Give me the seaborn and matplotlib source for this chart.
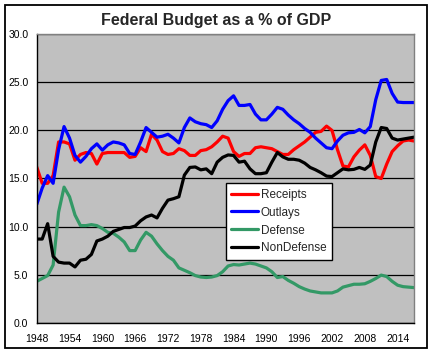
import matplotlib
matplotlib.use('Agg')
import matplotlib.pyplot as plt
from matplotlib.patches import Rectangle
import pandas as pd
import seaborn as sns
import numpy as np

# years on the chart's category axis
years = list(range(1948, 2018))

receipts = [16.2, 14.5, 14.5, 15.3, 18.8, 18.8, 18.6, 16.9, 17.5, 17.7,
            17.6, 16.5, 17.6, 17.7, 17.7, 17.7, 17.7, 17.2, 17.3, 18.2,
            17.8, 19.6, 19.0, 17.8, 17.5, 17.6, 18.1, 17.9, 17.4, 17.4,
            17.9, 18.0, 18.3, 18.8, 19.4, 19.2, 17.8, 17.3, 17.6, 17.6,
            18.2, 18.3, 18.2, 18.1, 17.8, 17.5, 17.5, 18.0, 18.4, 18.8,
            19.3, 19.8, 19.9, 20.45, 20.0, 18.0, 16.3, 16.2, 17.25, 17.95,
            18.5, 17.4, 15.2, 15.0, 16.5, 17.8, 18.4, 18.9, 19.0, 18.9]

outlays = [12.3, 14.0, 15.3, 14.5, 18.0, 20.4, 19.2, 17.4, 16.7, 17.3,
           18.1, 18.6, 17.95, 18.5, 18.8, 18.7, 18.5, 17.6, 17.5, 18.8,
           20.3, 19.8, 19.3, 19.4, 19.6, 19.2, 18.7, 20.3, 21.3, 20.9,
           20.7, 20.6, 20.3, 21.0, 22.2, 23.1, 23.6, 22.6, 22.6, 22.7,
           21.7, 21.1, 21.1, 21.7, 22.4, 22.2, 21.6, 21.1, 20.7, 20.2,
           19.8, 19.2, 18.7, 18.2, 18.1, 18.9, 19.5, 19.75, 19.8, 20.1,
           19.75, 20.4, 23.2, 25.2, 25.3, 23.85, 22.95, 22.9, 22.9, 22.9]

defense = [4.3, 4.6, 4.9, 6.0, 11.5, 14.1, 13.1, 11.2, 10.1, 10.1,
           10.2, 10.1, 9.8, 9.4, 9.3, 8.9, 8.4, 7.5, 7.5, 8.6,
           9.4, 9.0, 8.2, 7.5, 6.9, 6.5, 5.7, 5.45, 5.2, 4.9,
           4.75, 4.7, 4.75, 4.9, 5.3, 5.9, 6.05, 6.0, 6.1, 6.2,
           6.1, 5.9, 5.7, 5.3, 4.7, 4.8, 4.4, 4.1, 3.75, 3.5,
           3.3, 3.2, 3.1, 3.1, 3.1, 3.3, 3.7, 3.85, 4.0, 4.0,
           4.05, 4.3, 4.6, 4.95, 4.8, 4.3, 3.9, 3.75, 3.7, 3.65]

nondefense = [8.7, 8.7, 10.3, 6.9, 6.3, 6.2, 6.2, 5.8, 6.5, 6.6,
              7.1, 8.5, 8.7, 9.0, 9.5, 9.7, 9.9, 9.9, 10.05, 10.6,
              11.0, 11.2, 10.9, 11.9, 12.75, 12.9, 13.1, 15.35, 16.15, 16.2,
              15.9, 16.0, 15.5, 16.7, 17.2, 17.45, 17.4, 16.7, 16.8, 16.0,
              15.5, 15.5, 15.6, 16.7, 17.7, 17.25, 17.0, 17.0, 16.9, 16.6,
              16.15, 15.9, 15.6, 15.25, 15.2, 15.6, 16.0, 15.9, 15.95, 16.15,
              15.95, 16.4, 18.8, 20.3, 20.2, 19.2, 19.0, 19.1, 19.2, 19.3]

series_names = ['Receipts', 'Outlays', 'Defense', 'NonDefense']
colors = {'Receipts': '#FF0000', 'Outlays': '#0000FF',
          'Defense': '#339966', 'NonDefense': '#000000'}

wide = pd.DataFrame({'Year': years, 'Receipts': receipts, 'Outlays': outlays,
                     'Defense': defense, 'NonDefense': nondefense})
long = wide.melt(id_vars='Year', var_name='Series', value_name='Pct')

sns.set_style('white')
plt.rcParams['font.family'] = ['Liberation Sans', 'DejaVu Sans']

fig = plt.figure(figsize=(4.34, 3.55), dpi=100)
fig.patch.set_facecolor('white')
ax = fig.add_axes([0.0846, 0.091, 0.8694, 0.8124])
ax.set_facecolor('#C0C0C0')

sns.lineplot(data=long, x='Year', y='Pct', hue='Series', hue_order=series_names,
             palette=colors, linewidth=2.3, ax=ax, legend=True)

ax.set_xlim(1948, 2017)
ax.set_ylim(0, 30)
ax.set_xticks(np.arange(1948, 2015, 6))
ax.set_yticks(np.arange(0, 31, 5))
ax.set_yticklabels(['%.1f' % v for v in np.arange(0, 31, 5)])
ax.set_xlabel('')
ax.set_ylabel('')
ax.yaxis.grid(True, color='black', linewidth=0.9)
ax.xaxis.grid(False)
ax.set_axisbelow(True)
ax.tick_params(axis='both', direction='out', length=4, width=1, labelsize=7.5,
               pad=2, colors='black')
ax.tick_params(axis='x', pad=4)

for side in ['left', 'bottom']:
    ax.spines[side].set_color('black')
    ax.spines[side].set_linewidth(1)
for side in ['top', 'right']:
    ax.spines[side].set_color('#808080')
    ax.spines[side].set_linewidth(1)
    ax.spines[side].set_visible(True)

handles, labels = ax.get_legend_handles_labels()
leg = ax.legend(handles, labels, loc='upper left', bbox_to_anchor=(0.501, 0.483),
                frameon=True, fancybox=False, edgecolor='black', framealpha=1,
                fontsize=8.5, handlelength=2.3, handletextpad=0.2,
                labelspacing=0.5, borderpad=0.45, borderaxespad=0)
leg.get_frame().set_linewidth(1)
for line in leg.get_lines():
    line.set_linewidth(2.3)

fig.text(0.498, 0.941, 'Federal Budget as a % of GDP', ha='center', va='center',
         fontsize=11.5, fontweight='bold')

fig.add_artist(Rectangle((0.0122, 0.0197), 0.971, 0.9654, transform=fig.transFigure,
                         fill=False, edgecolor='black', linewidth=1.3))

fig.savefig('out.png', dpi=100)
